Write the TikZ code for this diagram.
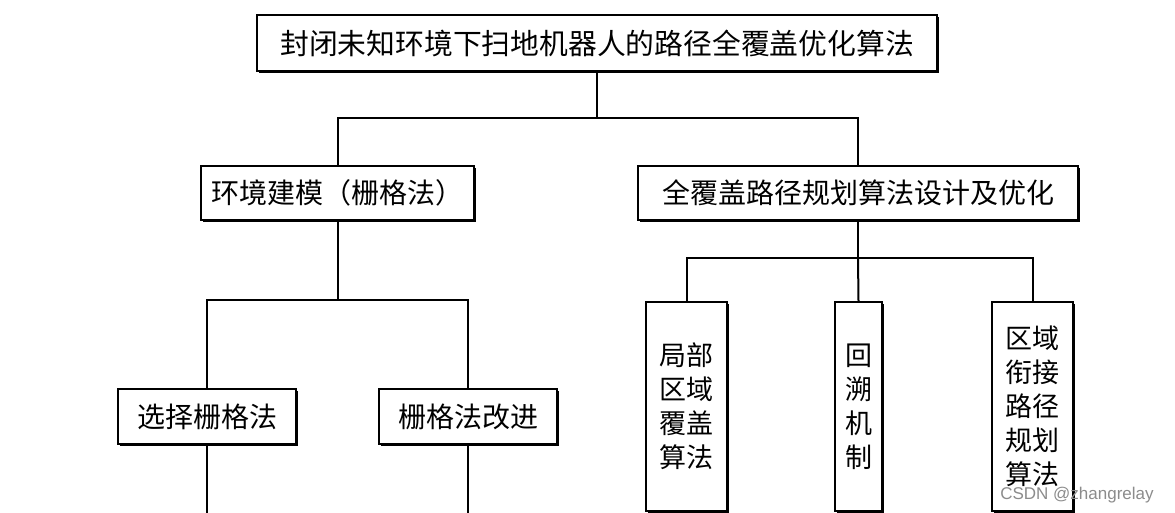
\documentclass[tikz,border=0pt]{standalone}
\usepackage{fontspec}
\setmainfont{Liberation Sans}
\newfontfamily\cjk{Noto Sans CJK SC}
\newcommand\fontmid{\cjk\fontsize{28pt}{34pt}\selectfont}
\newcommand\fonttop{\cjk\fontsize{28.8pt}{34pt}\selectfont}
\newcommand\fontvert{\cjk\fontsize{27pt}{34pt}\selectfont}
\begin{document}
\begin{tikzpicture}[x=1pt,y=-1pt,
  box/.style={draw=black,line width=1.8pt,fill=white,inner sep=0pt,align=center,font=\fontmid},
  shadowbox/.style={box,preaction={fill=black,transform canvas={shift={(1.8pt,-1.8pt)}}}},
  conn/.style={line width=2pt,line cap=rect}]
\useasboundingbox (0,0) rectangle (1175,513);
\fill[white] (0,0) rectangle (1175,513);
% nodes
\node[shadowbox,minimum width=680pt,minimum height=56pt,font=\fonttop] (top) at (597,43) {封闭未知环境下扫地机器人的路径全覆盖优化算法};
\node[shadowbox,minimum width=273pt,minimum height=54pt] (env) at (337.5,193) {环境建模（栅格法）};
\node[shadowbox,minimum width=440pt,minimum height=54pt] (cov) at (858,193) {全覆盖路径规划算法设计及优化};
\node[shadowbox,minimum width=178pt,minimum height=55pt] (sel) at (207,416.5) {选择栅格法};
\node[shadowbox,minimum width=178pt,minimum height=55pt] (imp) at (468,416.5) {栅格法改进};
\node[shadowbox,minimum width=81pt,minimum height=209pt,font=\fontvert] (loc) at (686.5,406.5) {局部\\区域\\覆盖\\算法};
\node[shadowbox,minimum width=47pt,minimum height=209pt,font=\fontvert] (back) at (858.5,406.5) {回\\溯\\机\\制};
\node[shadowbox,minimum width=81pt,minimum height=209pt,font=\fontvert] (link) at (1032.5,406.5) {区域\\衔接\\路径\\规划\\算法};
% junctions
\coordinate (j1) at (597,118);
\coordinate (j2) at (337.5,300);
\coordinate (j3) at (858,258);
\coordinate (e1) at (207,513);
\coordinate (e2) at (468,513);
\coordinate (e3) at (686.5,513);
\coordinate (e4) at (858.5,513);
\coordinate (e5) at (1032.5,513);
% connectors
\draw[conn] (top.south) -- (j1);
\draw[conn] (env.north) |- (j1) -| (cov.north);
\draw[conn] (env.south) -- (j2);
\draw[conn] (sel.north) |- (j2) -| (imp.north);
\draw[conn] (cov.south) -- (j3);
\draw[conn] (loc.north) |- (j3) -| (link.north);
\draw[conn] (j3) -- (back.north);
\draw[conn] (sel.south) -- (e1);
\draw[conn] (imp.south) -- (e2);
\draw[conn] (loc.south) -- (e3);
\draw[conn] (back.south) -- (e4);
\draw[conn] (link.south) -- (e5);
% watermark
\node[text=black!45,font=\fontsize{17pt}{20pt}\selectfont,inner sep=0pt] (wm) at (1077,495) {CSDN @zhangrelay};
\end{tikzpicture}
\end{document}
